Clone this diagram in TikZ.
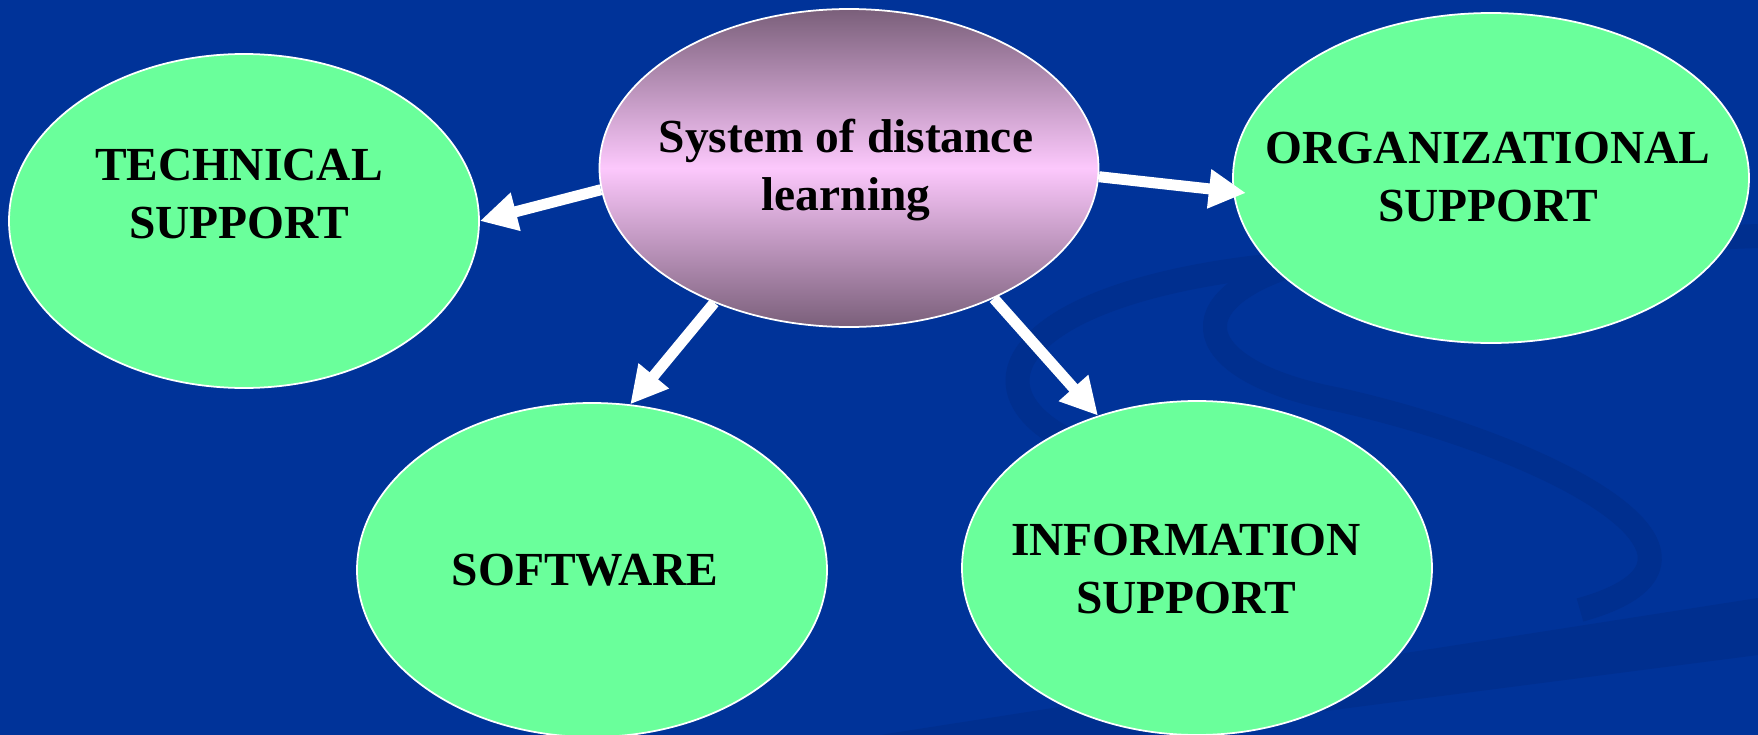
\documentclass[tikz,border=0pt]{standalone}
\usepackage{fontspec}
\setmainfont{Liberation Serif}
\usepackage{xcolor}
\usepackage{tikz}
\usetikzlibrary{shapes.geometric, arrows.meta}

\definecolor{slideblue}{RGB}{0,51,153}
\definecolor{swooshblue}{RGB}{0,47,143}
\definecolor{bubblegreen}{RGB}{106,255,155}
\definecolor{mauve}{RGB}{122,95,122}
\definecolor{pinklight}{RGB}{252,200,252}

\begin{document}
\begin{tikzpicture}[x=0.1mm, y=-0.1mm,
    bubble/.style={ellipse, draw=white, line width=0.5pt, fill=bubblegreen, inner sep=0pt,
                   minimum width=47mm, minimum height=33.4mm},
    bubbletext/.style={align=center, text=black, font=\fontsize{13.5}{16.5}\selectfont\bfseries},
    link/.style={draw=white, line width=1.1mm, -{Triangle[length=3.7mm, width=3.7mm]}},
    swoosh/.style={draw=swooshblue, line width=2.4mm}]
            \useasboundingbox (0,0) rectangle (1758,735);
            \clip (0,0) rectangle (1758,735);
            \fill[slideblue] (0,0) rectangle (1758,735);
            % Background swooshes
            \draw[swoosh] (1090,450) .. controls (960,400) and (1000,300) .. (1250,268)
                .. controls (1450,245) and (1650,240) .. (1758,236);
            \draw[swoosh] (1330,255) .. controls (1170,290) and (1180,370) .. (1340,400)
                .. controls (1560,450) and (1760,560) .. (1580,610);
            \fill[swooshblue] (880,735) -- (1758,598) -- (1758,655) -- (1140,735) -- cycle;
            % Centre
            \node[ellipse, draw=white, line width=0.5pt, inner sep=0pt,
                  minimum width=49.9mm, minimum height=31.8mm,
                  top color=mauve, bottom color=mauve, middle color=pinklight] (sys) at (849,168) {};
            \node[bubbletext] (systext) at (846,170) {System of distance\\learning};
            % Supports
            \node[bubble] (tech) at (244,221) {};
            \node[bubbletext] (techtext) at (239,194) {TECHNICAL\\SUPPORT};
            \node[bubble, minimum width=51.6mm, minimum height=33mm] (org) at (1491,178) {};
            \node[bubbletext] (orgtext) at (1488,177) {ORGANIZATIONAL\\SUPPORT};
            \node[bubble] (soft) at (592,570) {};
            \node[bubbletext] (softtext) at (585,570) {SOFTWARE};
            \node[bubble] (info) at (1197,568) {};
            \node[bubbletext] (infotext) at (1186,569) {INFORMATION\\SUPPORT};
            % Arrows
            \draw[link] (sys.185) -- (tech.east);
            \draw[link, shorten >=-1.3mm] (sys.-2) -- (org.183);
            \draw[link] (sys.225) -- (soft.77);
            \draw[link] (sys.-42) -- (info.123);
        \end{tikzpicture}
\end{document}
